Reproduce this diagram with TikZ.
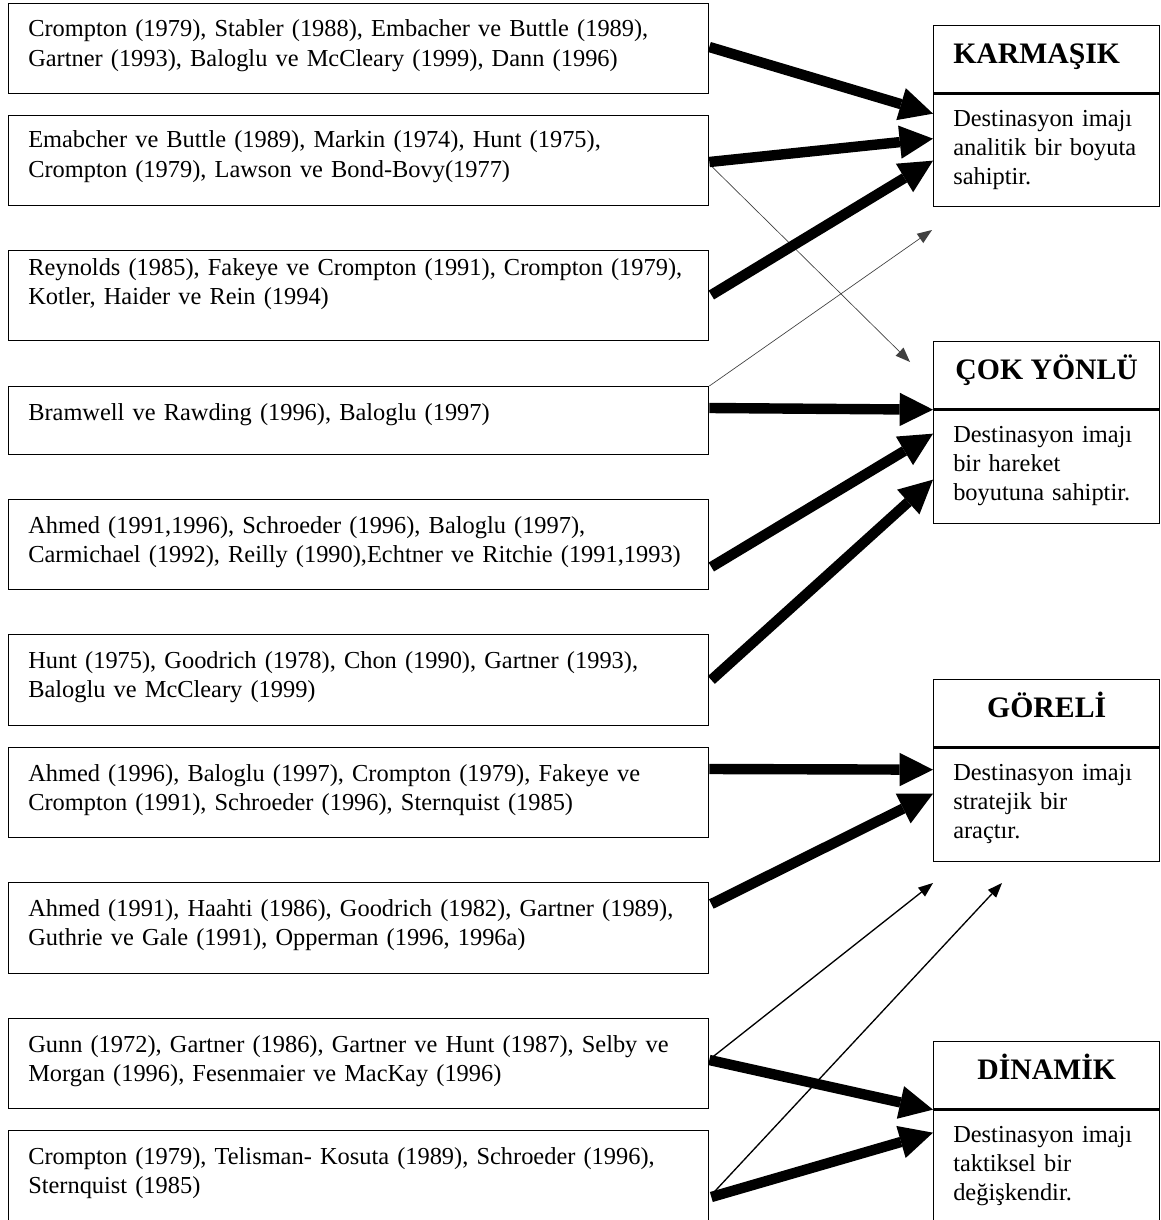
\documentclass[tikz,border=0pt]{standalone}
\usepackage{fontspec}
\setmainfont{Liberation Serif}
\usetikzlibrary{arrows.meta,calc}
\tikzset{
  lbox/.style={draw, line width=1pt, rectangle, anchor=north west, minimum width=525pt, inner sep=0pt},
  rhead/.style={draw, line width=1pt, rectangle, anchor=north west, minimum width=169.5pt, minimum height=50.5pt, inner sep=0pt,
     font=\fontsize{22.3}{26}\selectfont\bfseries, text height=15pt, text depth=8.5pt},
  rbody/.style={draw, line width=1pt, rectangle, anchor=north west, minimum width=169.5pt, inner sep=0pt},
  txt/.style={anchor=base west, inner sep=0pt, align=left, text width=540pt, font=\fontsize{18.3}{22}\selectfont},
  rtxt/.style={anchor=base west, inner sep=0pt, align=left, text width=160pt, font=\fontsize{18.3}{21.6}\selectfont},
  bigarrow/.style={line width=7.8pt, -{Triangle[length=25pt,width=25pt,line width=0pt]}},
  thinarrow/.style={line width=1pt, -{Triangle[length=11pt,width=8.5pt,line width=0pt]}},
  hairarrow/.style={line width=0.5pt, black!75, -{Triangle[length=11pt,width=8.5pt,line width=0pt]}},
}
\begin{document}
\begin{tikzpicture}[x=0.75pt,y=-0.75pt]
\fill[white] (0,0) rectangle (1160,1220);
\useasboundingbox (0,0) rectangle (1160,1220);

% left boxes
\node[lbox, minimum height=67.5pt] (b1) at (8,3) {};
\node[lbox, minimum height=67.5pt] (b2) at (8,115) {};
\node[lbox, minimum height=67.5pt] (b3) at (8,250) {};
\node[lbox, minimum height=51pt]   (b4) at (8,386) {};
\node[lbox, minimum height=67.5pt] (b5) at (8,499) {};
\node[lbox, minimum height=68pt]   (b6) at (8,634) {};
\node[lbox, minimum height=67.5pt] (b7) at (8,747) {};
\node[lbox, minimum height=68pt]   (b8) at (8,882) {};
\node[lbox, minimum height=67.5pt] (b9) at (8,1018) {};
\node[lbox, minimum height=80pt]   (b10) at (8,1130) {};

\node[txt] (t1) at ($(b1.north west)+(20,34)$) {Crompton (1979), Stabler (1988), Embacher ve Buttle (1989),\\Gartner (1993), Baloglu ve McCleary (1999), Dann (1996)};
\node[txt] (t2) at ($(b2.north west)+(20,33)$) {Emabcher ve Buttle (1989), Markin (1974), Hunt (1975),\\Crompton (1979), Lawson ve Bond-Bovy(1977)};
\node[txt] (t3) at ($(b3.north west)+(20,25)$) {Reynolds (1985), Fakeye ve Crompton (1991), Crompton (1979),\\Kotler, Haider ve Rein (1994)};
\node[txt] (t4) at ($(b4.north west)+(20,34)$) {Bramwell ve Rawding (1996), Baloglu (1997)};
\node[txt] (t5) at ($(b5.north west)+(20,34)$) {Ahmed (1991,1996), Schroeder (1996), Baloglu (1997),\\Carmichael (1992), Reilly (1990),Echtner ve Ritchie (1991,1993)};
\node[txt] (t6) at ($(b6.north west)+(20,34)$) {Hunt (1975), Goodrich (1978), Chon (1990), Gartner (1993),\\Baloglu ve McCleary (1999)};
\node[txt] (t7) at ($(b7.north west)+(20,34)$) {Ahmed (1996), Baloglu (1997), Crompton (1979), Fakeye ve\\Crompton (1991), Schroeder (1996), Sternquist (1985)};
\node[txt] (t8) at ($(b8.north west)+(20,34)$) {Ahmed (1991), Haahti (1986), Goodrich (1982), Gartner (1989),\\Guthrie ve Gale (1991), Opperman (1996, 1996a)};
\node[txt] (t9) at ($(b9.north west)+(20,34)$) {Gunn (1972), Gartner (1986), Gartner ve Hunt (1987), Selby ve\\Morgan (1996), Fesenmaier ve MacKay (1996)};
\node[txt] (t10) at ($(b10.north west)+(20,34)$) {Crompton (1979), Telisman- Kosuta (1989), Schroeder (1996),\\Sternquist (1985)};

% right boxes
\node[rhead] (k) at (933,25) {\kern-15pt KARMAŞIK};
\node[rbody, minimum height=84pt] (kb) at (k.south west) {};
\node[rtxt] (kt) at ($(kb.north west)+(20,33)$) {Destinasyon imajı\\analitik bir boyuta\\sahiptir.};

\node[rhead] (c) at (933,341) {ÇOK YÖNLÜ};
\node[rbody, minimum height=84.75pt] (cb) at (c.south west) {};
\node[rtxt] (ct) at ($(cb.north west)+(20,33)$) {Destinasyon imajı\\bir hareket\\boyutuna sahiptir.};

\node[rhead] (g) at (933,679) {GÖRELİ};
\node[rbody, minimum height=84.75pt] (gb) at (g.south west) {};
\node[rtxt] (gt) at ($(gb.north west)+(20,33)$) {Destinasyon imajı\\stratejik bir\\araçtır.};

\node[rhead] (d) at (933,1041) {DİNAMİK};
\node[rbody, minimum height=110pt] (db) at (d.south west) {};
\node[rtxt] (dt) at ($(db.north west)+(20,33)$) {Destinasyon imajı\\taktiksel bir\\değişkendir.};

% free ends
\coordinate (e4) at (910,362);
\coordinate (e5) at (932,230);
\coordinate (e11) at (933,883);
\coordinate (e12) at (1002,883);

% thin arrows
\draw[hairarrow] ($(b2.north east)+(3,52)$) -- (e4);
\draw[hairarrow] (b4.north east) -- (e5);
\draw[thinarrow] ($(b9.north east)+(2,40)$) -- (e11);
\draw[thinarrow] ($(b10.north east)+(2,65)$) -- (e12);

% thick arrows
\draw[bigarrow] ($(b1.north east)+(0,44)$) -- ($(kb.north west)+(0,20)$);
\draw[bigarrow] ($(b2.north east)+(0,47)$) -- ($(kb.north west)+(0,45)$);
\draw[bigarrow] ($(b3.north east)+(2,45)$) -- ($(kb.north west)+(0,67)$);
\draw[bigarrow] ($(b4.north east)+(0,22)$) -- (cb.north west);
\draw[bigarrow] ($(b5.north east)+(2,68)$) -- ($(cb.north west)+(0,24)$);
\draw[bigarrow] ($(b6.north east)+(2,46)$) -- ($(cb.north west)+(0,70)$);
\draw[bigarrow] ($(b7.north east)+(0,22)$) -- ($(gb.north west)+(0,22)$);
\draw[bigarrow] ($(b8.north east)+(2,22)$) -- ($(gb.north west)+(0,46)$);
\draw[bigarrow] ($(b9.north east)+(0,42)$) -- (db.north west);
\draw[bigarrow] ($(b10.north east)+(2,67)$) -- ($(db.north west)+(0,23)$);
\end{tikzpicture}
\end{document}
